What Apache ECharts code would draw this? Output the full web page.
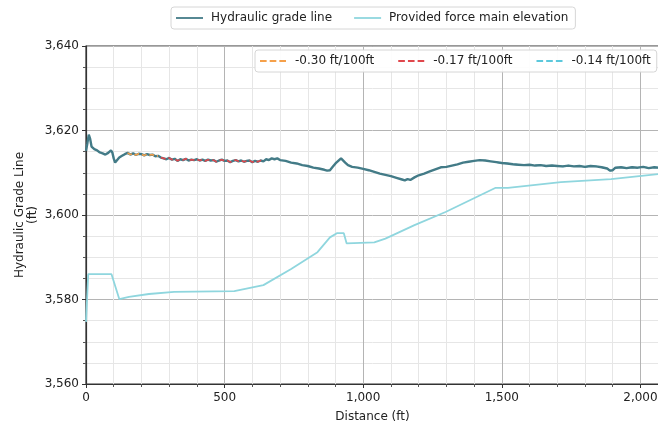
<!DOCTYPE html>
<html>
<head>
<meta charset="utf-8">
<script src="https://cdn.jsdelivr.net/npm/echarts@6/dist/echarts.min.js"></script>
<style>
  html, body { margin: 0; padding: 0; background: #fff; }
  #chart { width: 658px; height: 424px; }
</style>
</head>
<body>
<div id="chart"></div>
<script>
// hydraulic grade line
var hglDist = [0, 5, 10, 15, 20, 30, 40, 50, 60, 70, 80, 90, 95, 100, 105, 112, 120, 130, 140,
  150, 160, 170, 180, 190, 200, 210, 220, 230, 240, 250, 260, 270, 280, 290, 300, 310, 320, 330,
  340, 350, 360, 370, 380, 390, 400, 410, 420, 430, 440, 450, 460, 470, 480, 490, 500, 510, 520,
  530, 540, 550, 560, 570, 580, 590, 600, 610, 620, 630, 640, 650, 660, 670, 680, 690, 700, 720,
  740, 760, 780, 800, 820, 840, 860, 870, 880, 890, 900, 910, 920, 925, 935, 945, 960, 980, 1000,
  1020, 1040, 1060, 1080, 1100, 1120, 1140, 1150, 1160, 1170, 1185, 1200, 1220, 1240, 1260, 1280,
  1300, 1320, 1340, 1360, 1380, 1400, 1420, 1440, 1460, 1480, 1500, 1520, 1540, 1560, 1580, 1600,
  1620, 1640, 1660, 1680, 1700, 1720, 1740, 1760, 1780, 1800, 1820, 1840, 1860, 1880, 1890, 1900,
  1910, 1930, 1950, 1970, 1990, 2010, 2030, 2050, 2067];
var hglHead = [3615.2, 3617.0, 3619.0, 3618.0, 3616.2, 3615.6, 3615.3, 3614.8, 3614.6, 3614.3,
  3614.7, 3615.3, 3614.8, 3613.4, 3612.4, 3612.8, 3613.6, 3614.0, 3614.4,
  3614.7, 3614.3, 3614.6, 3614.2, 3614.5, 3614.4, 3614.1, 3614.4, 3614.2, 3614.3, 3613.9, 3614.0,
  3613.6, 3613.4, 3613.2, 3613.5, 3613.1, 3613.3, 3612.8, 3613.2, 3613.0, 3613.3, 3612.9, 3613.1,
  3613.0, 3613.2, 3612.9, 3613.1, 3612.8, 3613.1, 3612.9, 3613.0, 3612.6, 3612.9, 3613.1, 3612.8,
  3612.9, 3612.5, 3612.8, 3613.0, 3612.7, 3612.9, 3612.6, 3612.8, 3612.9, 3612.5, 3612.8, 3612.6,
  3612.9, 3612.7, 3613.2, 3613.0, 3613.4, 3613.2, 3613.4, 3613.0, 3612.8, 3612.4, 3612.2, 3611.8,
  3611.6, 3611.2, 3611.0, 3610.7, 3610.5, 3610.6, 3611.4, 3612.2, 3612.8, 3613.4, 3613.0, 3612.4,
  3611.8, 3611.4, 3611.2, 3610.9, 3610.6, 3610.2, 3609.8, 3609.5, 3609.2, 3608.8, 3608.4, 3608.2,
  3608.5, 3608.3, 3608.9, 3609.4, 3609.8, 3610.3, 3610.8, 3611.3, 3611.4, 3611.7, 3612.0, 3612.4,
  3612.6, 3612.8, 3613.0, 3612.9, 3612.7, 3612.5, 3612.3, 3612.2, 3612.0, 3611.9, 3611.8, 3611.9,
  3611.7, 3611.8, 3611.6, 3611.7, 3611.6, 3611.5, 3611.7, 3611.5, 3611.6, 3611.4, 3611.6, 3611.5,
  3611.3, 3611.0, 3610.5, 3610.6, 3611.2, 3611.3, 3611.1, 3611.3, 3611.2, 3611.4, 3611.1, 3611.3,
  3611.2];

// provided force main elevation
var elevDist = [0, 8, 92, 120, 155, 227, 318, 535, 640, 740, 835, 880, 905, 930, 940, 1040, 1080,
  1185, 1297, 1476, 1522, 1713, 1894, 2067];
var elevFt = [3574.7, 3586.0, 3586.0, 3580.1, 3580.6, 3581.3, 3581.8, 3582.0, 3583.4, 3587.2,
  3591.2, 3594.7, 3595.7, 3595.7, 3593.3, 3593.5, 3594.4, 3597.6, 3600.7, 3606.4, 3606.4, 3607.8,
  3608.5, 3609.7];

// slope segments (start, end distance)
var slopeNames = ["-0.30 ft/100ft", "-0.17 ft/100ft", "-0.14 ft/100ft"];
var slopeRanges = [[145, 265], [270, 640], [1480, 2067]];
var slopeColors = ["#f5a04a", "#e0474c", "#5cc8dc"];

var hglColor = "#437b87";
var elevColor = "#8fd6de";

function pairs(xs, ys) {
  return xs.map(function (x, i) { return [x, ys[i]]; });
}
function hglBetween(r) {
  return pairs(hglDist, hglHead).filter(function (p) { return p[0] >= r[0] && p[0] <= r[1]; });
}

// legend glyphs: a plain stroke and a three-dash stroke
var solidIcon = "path://M0,0h27v1.8h-27z";
var dashIcon = "path://M0,0h6.5v1.8h-6.5z M9.5,0h6.5v1.8h-6.5z M19,0h6.5v1.8h-6.5z";

var font = "DejaVu Sans";
var myChart = echarts.init(document.getElementById("chart"));

var series = [
  {
    name: slopeNames[2],
    type: "line",
    symbol: "none",
    z: 1,
    data: hglBetween(slopeRanges[2]),
    lineStyle: { color: slopeColors[2], width: 1.6, type: [5, 3] },
    itemStyle: { color: slopeColors[2] }
  },
  {
    name: "Hydraulic grade line",
    type: "line",
    symbol: "none",
    z: 2,
    data: pairs(hglDist, hglHead),
    lineStyle: { color: hglColor, width: 2.4 },
    itemStyle: { color: hglColor }
  },
  {
    name: "Provided force main elevation",
    type: "line",
    symbol: "none",
    z: 2,
    data: pairs(elevDist, elevFt),
    lineStyle: { color: elevColor, width: 1.8 },
    itemStyle: { color: elevColor }
  }
];
for (var i = 0; i < 2; i++) {
  series.push({
    name: slopeNames[i],
    type: "line",
    symbol: "none",
    z: 3,
    data: hglBetween(slopeRanges[i]),
    lineStyle: { color: slopeColors[i], width: 1.6, type: [5, 3] },
    itemStyle: { color: slopeColors[i] }
  });
}

myChart.setOption({
  animation: false,
  textStyle: { fontFamily: font },
  grid: {
    left: 86, right: -1, top: 46, bottom: 40,
    outerBoundsMode: "none",
    containLabel: false,
    show: true, borderColor: "#333", borderWidth: 1.2
  },
  legend: [
    {
      data: [
        { name: "Hydraulic grade line", icon: solidIcon, itemStyle: { color: hglColor } },
        { name: "Provided force main elevation", icon: solidIcon, itemStyle: { color: elevColor } }
      ],
      left: 171, top: 7,
      itemWidth: 27, itemHeight: 12, itemGap: 22,
      padding: [5, 7, 5, 5],
      borderColor: "#d6d6d6", borderWidth: 1, borderRadius: 3,
      textStyle: { fontFamily: font, fontSize: 12, color: "#222", padding: [0, 0, 0, 3] }
    },
    {
      data: slopeNames.map(function (n, i) {
        return { name: n, icon: dashIcon, itemStyle: { color: slopeColors[i] } };
      }),
      left: 255, top: 50,
      itemWidth: 26, itemHeight: 12, itemGap: 24,
      padding: [5, 6, 5, 5],
      backgroundColor: "rgba(255,255,255,0.9)",
      borderColor: "#d6d6d6", borderWidth: 1, borderRadius: 3,
      textStyle: { fontFamily: font, fontSize: 12, color: "#222", padding: [0, 0, 0, 4] }
    }
  ],
  xAxis: {
    type: "value",
    min: 0, max: 2067, interval: 500,
    name: "Distance (ft)",
    nameLocation: "middle",
    nameGap: 27,
    nameMoveOverlap: false,
    nameTextStyle: { fontFamily: font, fontSize: 12, color: "#222" },
    axisLine: { lineStyle: { color: "#333", width: 1.2 } },
    axisTick: { show: true, length: 4, lineStyle: { color: "#333" } },
    minorTick: { show: true, splitNumber: 5, length: 3, lineStyle: { color: "#555" } },
    axisLabel: {
      fontFamily: font, fontSize: 12, color: "#222", margin: 8,
      formatter: function (v) { return v.toLocaleString("en-US"); }
    },
    splitLine: { show: true, lineStyle: { color: "#b4b4b4", width: 1 } },
    minorSplitLine: { show: true, lineStyle: { color: "#e6e6e6", width: 1 } }
  },
  yAxis: {
    type: "value",
    min: 3560, max: 3640, interval: 20,
    name: "Hydraulic Grade Line\n(ft)",
    nameLocation: "middle",
    nameGap: 47,
    nameMoveOverlap: false,
    nameTextStyle: { fontFamily: font, fontSize: 12, color: "#222", lineHeight: 13 },
    axisLine: { show: true, lineStyle: { color: "#333", width: 1.2 } },
    axisTick: { show: true, length: 4, lineStyle: { color: "#333" } },
    minorTick: { show: true, splitNumber: 4, length: 3, lineStyle: { color: "#555" } },
    axisLabel: {
      fontFamily: font, fontSize: 12, color: "#222", margin: 7,
      formatter: function (v) { return v.toLocaleString("en-US"); }
    },
    splitLine: { show: true, lineStyle: { color: "#b4b4b4", width: 1 } },
    minorSplitLine: { show: true, lineStyle: { color: "#e6e6e6", width: 1 } }
  },
  series: series
});
</script>
</body>
</html>
